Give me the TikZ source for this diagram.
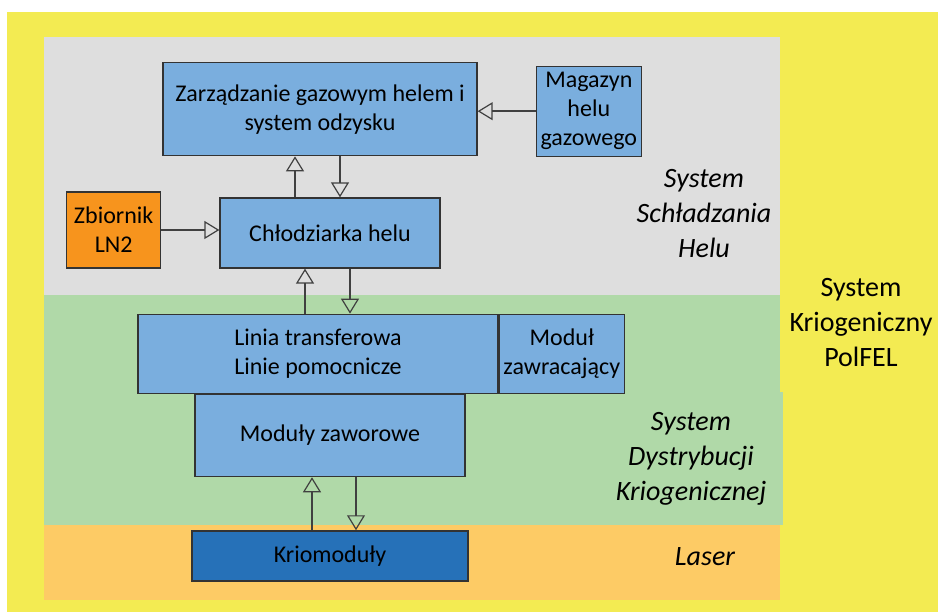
\documentclass[tikz,border=0pt]{standalone}
\usepackage{fontspec}
\setmainfont{Carlito}
\usetikzlibrary{positioning,arrows.meta}

\definecolor{frameyellow}{RGB}{243,235,82}
\definecolor{coolgray}{RGB}{222,222,222}
\definecolor{distgreen}{RGB}{176,217,168}
\definecolor{laserband}{RGB}{253,203,101}
\definecolor{boxblue}{RGB}{122,174,222}
\definecolor{cryoblue}{RGB}{38,113,184}
\definecolor{tankorange}{RGB}{247,148,29}

\begin{document}
\begin{tikzpicture}[x=1pt,y=-1pt,font=\fontsize{24}{29}\selectfont]
    \tikzset{block/.style = {rectangle, draw=black!80, line width=1.3pt, fill=boxblue, text centered, align=center, inner sep=0pt}, }
    \tikzset{flow/.style = {draw=black!75, line width=1.4pt, -{Triangle[open, length=15pt, width=18pt, line width=1.2pt]}}, }
    \tikzset{zone/.style = {font=\fontsize{28}{35}\selectfont\itshape, align=center} }
       \useasboundingbox (0,0) rectangle (938,612);
       % background bands
       \fill[white] (0,0) rectangle (938,612);
       \fill[frameyellow] (7,12) rectangle (938,612);
       \fill[coolgray] (44,37) rectangle (780,295);
       \fill[distgreen] (44,295) rectangle (780,392);
       \fill[distgreen] (44,392) rectangle (783,525);
       \fill[laserband] (44,525) rectangle (780,600);

       \node[block, minimum width=220pt, minimum height=70pt] (CH) at (330,233) {Chłodziarka helu};
       \node[block, minimum width=314pt, minimum height=93pt, above=41pt of CH, xshift=-10pt] (ZG) {Zarządzanie gazowym helem i\\system odzysku};
       \node[block, minimum width=105pt, minimum height=90pt, right=58pt of ZG, yshift=-2pt] (MG) {Magazyn\\helu\\gazowego};
       \node[block, fill=tankorange, minimum width=94pt, minimum height=76pt, left=58pt of CH, yshift=3pt] (LN) {Zbiornik\\LN2};
       \node[block, minimum width=360pt, minimum height=79pt, below=45pt of CH, xshift=-12pt] (LT) {Linia transferowa\\Linie pomocnicze};
       \node[block, minimum width=125pt, minimum height=79pt, right=0pt of LT] (MZ) {Moduł\\zawracający};
       \node[block, minimum width=270pt, minimum height=82pt, below=0pt of LT, xshift=12pt] (MV) {Moduły zaworowe};
       \node[block, fill=cryoblue, minimum width=276pt, minimum height=50pt, below=53pt of MV] (KM) {Kriomoduły};

       \node[zone] (SSH) at (704,214) {System\\Schładzania\\Helu};
       \node[zone, font=\fontsize{28}{35}\selectfont] (SKP) at (861,323) {System\\Kriogeniczny\\PolFEL};
       \node[zone] (SDK) at (691,459) {System\\Dystrybucji\\Kriogenicznej};
       \node[zone] (LAS) at (705,557) {Laser};

       \draw[flow] (MG.west) -- (MG.west -| ZG.east);
       \draw[flow] (LN.east) -- (LN.east -| CH.west);
       \draw[flow] ([xshift=-35pt]CH.north) coordinate (u1) -- (u1 |- ZG.south);
       \draw[flow] ([xshift=20pt]ZG.south) coordinate (d1) -- (d1 |- CH.north);
       \draw[flow] ([xshift=-13pt]LT.north) coordinate (u2) -- (u2 |- CH.south);
       \draw[flow] ([xshift=20pt]CH.south) coordinate (d2) -- (d2 |- LT.north);
       \draw[flow] ([xshift=-18pt]KM.north) coordinate (u3) -- (u3 |- MV.south);
       \draw[flow] ([xshift=26pt]MV.south) coordinate (d3) -- (d3 |- KM.north);

\end{tikzpicture}
\end{document}
